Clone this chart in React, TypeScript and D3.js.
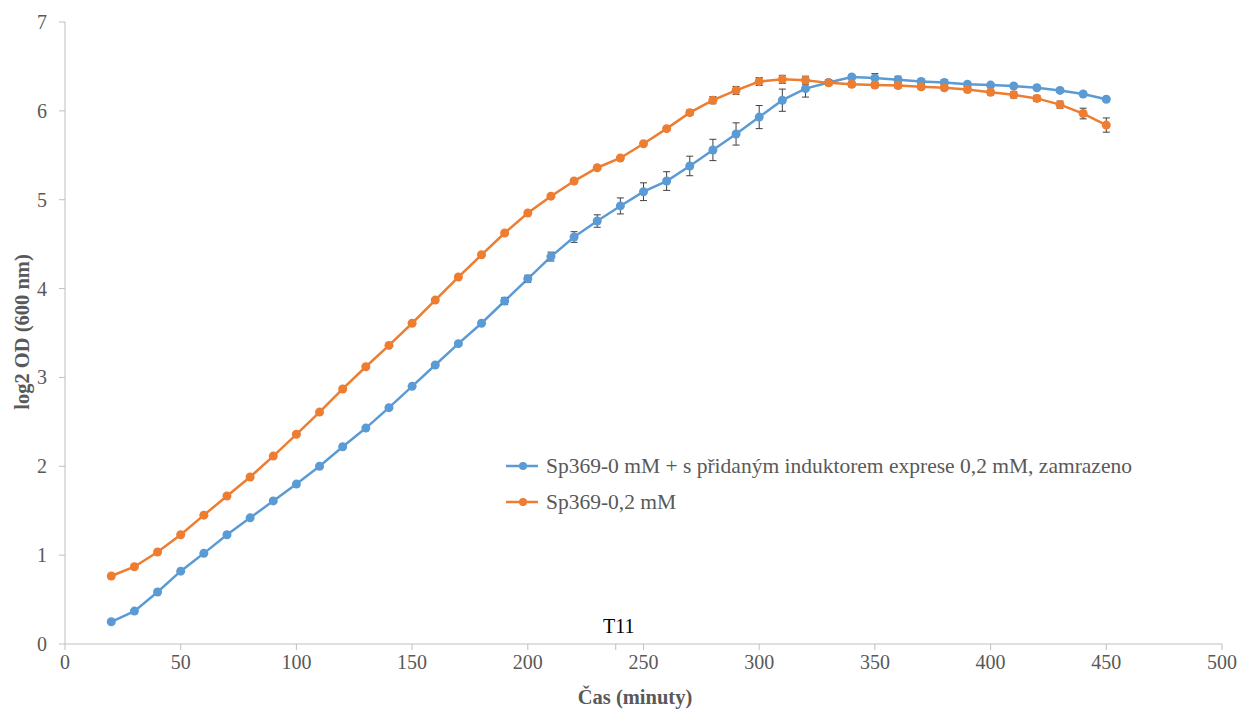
import React from "react";
import * as d3 from "d3";

const times = [20,30,40,50,60,70,80,90,100,110,120,130,140,150,160,170,180,190,200,210,220,230,240,250,260,270,280,290,300,310,320,330,340,350,360,370,380,390,400,410,420,430,440,450];
const blueVals = [0.25,0.37,0.585,0.82,1.02,1.23,1.42,1.61,1.80,2.00,2.22,2.43,2.66,2.90,3.14,3.38,3.61,3.86,4.11,4.36,4.58,4.76,4.93,5.09,5.21,5.38,5.56,5.74,5.93,6.12,6.25,6.32,6.38,6.37,6.35,6.33,6.32,6.30,6.29,6.28,6.26,6.23,6.19,6.13];
const blueErr = [0.01,0.01,0.01,0.01,0.01,0.01,0.01,0.01,0.01,0.01,0.01,0.01,0.01,0.01,0.01,0.02,0.02,0.04,0.04,0.05,0.06,0.07,0.09,0.1,0.105,0.11,0.12,0.125,0.13,0.125,0.095,0.03,0.03,0.05,0.04,0.03,0.03,0.02,0.02,0.02,0.02,0.02,0.02,0.02];
const orangeVals = [0.765,0.87,1.035,1.23,1.45,1.665,1.88,2.115,2.36,2.61,2.87,3.12,3.36,3.61,3.87,4.13,4.38,4.625,4.85,5.04,5.21,5.36,5.47,5.63,5.80,5.98,6.12,6.23,6.33,6.355,6.345,6.315,6.30,6.29,6.285,6.27,6.26,6.24,6.21,6.18,6.14,6.07,5.97,5.84];
const orangeErr = [0.01,0.01,0.01,0.01,0.01,0.01,0.01,0.01,0.01,0.01,0.01,0.01,0.01,0.01,0.01,0.01,0.01,0.01,0.01,0.01,0.01,0.01,0.01,0.01,0.02,0.03,0.04,0.045,0.045,0.045,0.045,0.03,0.03,0.03,0.03,0.03,0.03,0.03,0.03,0.035,0.035,0.04,0.06,0.08];
const xTicks = [0,50,100,150,200,250,300,350,400,450,500];
const yTicks = [0,1,2,3,4,5,6,7];
const seriesNames = ["Sp369-0 mM + s přidaným induktorem exprese 0,2 mM, zamrazeno", "Sp369-0,2 mM"];
const seriesColors = ["#5B9BD5", "#ED7D31"];
const markerTime = 238;
const markerLabel = "T11";

export default function App() {
  const W = 1243, H = 711;
  const x = d3.scaleLinear().domain([0, 500]).range([65, 1222]);
  const y = d3.scaleLinear().domain([0, 7]).range([644, 22]);
  const serif = "Liberation Serif, Times New Roman, serif";
  const series = [
    { vals: blueVals, err: blueErr, color: seriesColors[0] },
    { vals: orangeVals, err: orangeErr, color: seriesColors[1] },
  ];
  const line = d3.line<number>().x((_, i) => x(times[i])).y(d => y(d));
  const axisColor = "#BFBFBF";
  return (
    <svg width={W} height={H} style={{ position: "absolute", left: 0, top: 0, background: "#fff" }}>
      <line x1={x(0)} x2={x(500)} y1={y(0)} y2={y(0)} stroke={axisColor} strokeWidth={1} />
      <line x1={x(0)} x2={x(0)} y1={y(0)} y2={y(7)} stroke={axisColor} strokeWidth={1} />
      {xTicks.map(t => (
        <g key={"xt" + t}>
          <line x1={x(t)} x2={x(t)} y1={y(0)} y2={y(0) + 6} stroke={axisColor} />
          <text x={x(t)} y={y(0) + 25} textAnchor="middle" style={{ fontFamily: serif }} fontSize={20} fill="#595959">{t}</text>
        </g>
      ))}
      <line x1={x(markerTime)} x2={x(markerTime)} y1={y(0)} y2={y(0) + 6} stroke={axisColor} />
      <text x={x(markerTime) + 3} y={y(0) - 11} textAnchor="middle" style={{ fontFamily: serif }} fontSize={20} fill="#000">{markerLabel}</text>
      {yTicks.map(t => (
        <g key={"yt" + t}>
          <line x1={x(0) - 6} x2={x(0)} y1={y(t)} y2={y(t)} stroke={axisColor} />
          <text x={x(0) - 18} y={y(t) + 7} textAnchor="end" style={{ fontFamily: serif }} fontSize={20} fill="#595959">{t}</text>
        </g>
      ))}
      <text x={635} y={704} textAnchor="middle" style={{ fontFamily: serif }} fontSize={20.5} fontWeight="bold" fill="#595959">Čas (minuty)</text>
      <text transform={`translate(29,${y(3.5) - 1}) rotate(-90)`} textAnchor="middle" style={{ fontFamily: serif }} fontSize={20.5} fontWeight="bold" fill="#595959">log2 OD (600 nm)</text>
      {series.map((s, si) => (
        <g key={"s" + si}>
          <path d={line(s.vals) || ""} fill="none" stroke={s.color} strokeWidth={2.5} />
          {s.vals.map((v, i) => (
            <g key={"e" + i} stroke="#404040" strokeWidth={1}>
              <line x1={x(times[i])} x2={x(times[i])} y1={y(v - s.err[i])} y2={y(v + s.err[i])} />
              <line x1={x(times[i]) - 3.5} x2={x(times[i]) + 3.5} y1={y(v - s.err[i])} y2={y(v - s.err[i])} />
              <line x1={x(times[i]) - 3.5} x2={x(times[i]) + 3.5} y1={y(v + s.err[i])} y2={y(v + s.err[i])} />
            </g>
          ))}
          {s.vals.map((v, i) => (
            <circle key={i} cx={x(times[i])} cy={y(v)} r={4.5} fill={s.color} />
          ))}
        </g>
      ))}
      {seriesNames.map((n, i) => (
        <g key={"l" + i} transform={`translate(506,${466 + i * 36})`}>
          <line x1={0} x2={32} y1={0} y2={0} stroke={seriesColors[i]} strokeWidth={2.5} />
          <circle cx={17} cy={0} r={4} fill={seriesColors[i]} />
          <text x={40} y={7} style={{ fontFamily: serif }} fontSize={21.5} fill="#595959">{n}</text>
        </g>
      ))}
    </svg>
  );
}
